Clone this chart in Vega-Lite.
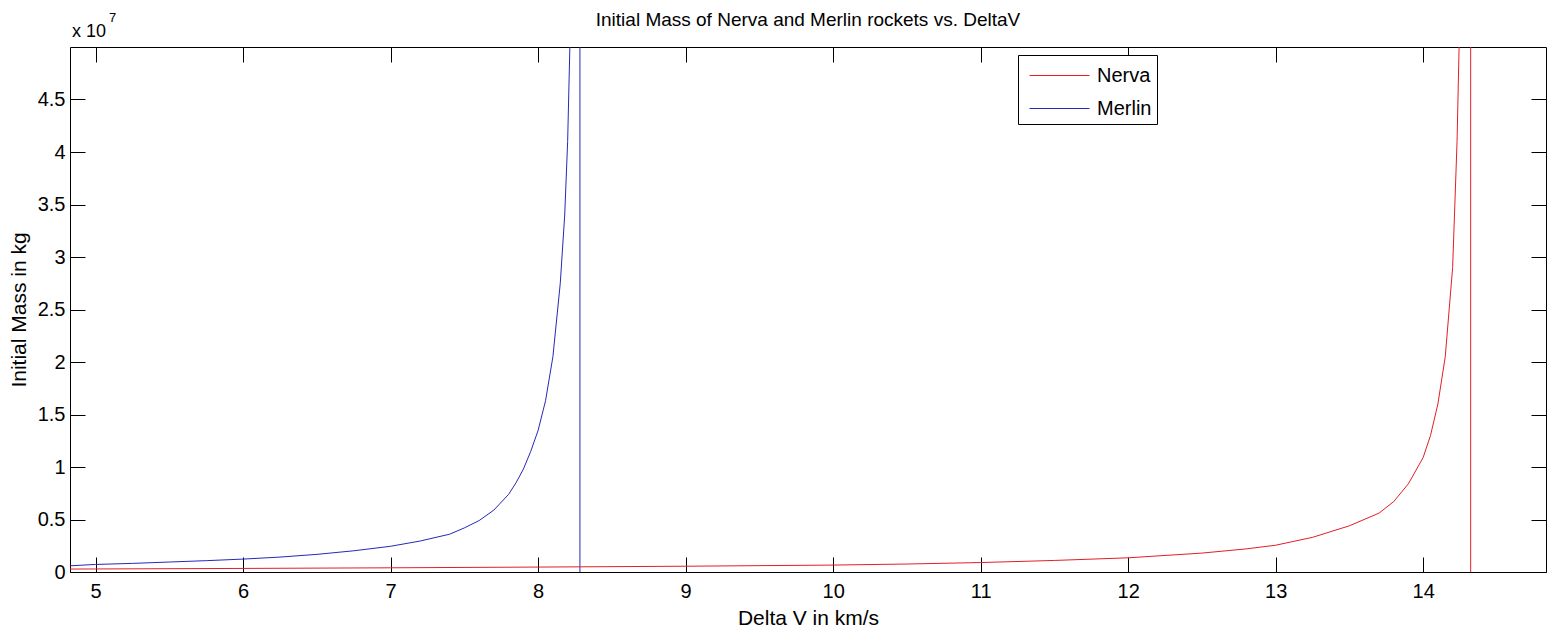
{
  "$schema": "https://vega.github.io/schema/vega-lite/v6.json",
  "width": 1476,
  "height": 525,
  "autosize": {"type": "none"},
  "padding": {"left": 70, "top": 47, "right": 1, "bottom": 61},
  "background": "white",
  "config": {
    "font": "Liberation Sans",
    "view": {"stroke": "black", "strokeWidth": 1},
    "axis": {
      "domain": false,
      "grid": false,
      "tickColor": "black",
      "tickWidth": 1,
      "labelColor": "black",
      "labelFont": "Liberation Sans",
      "labelFontSize": 20,
      "titleFont": "Liberation Sans",
      "titleFontSize": 21,
      "titleFontWeight": "normal",
      "titleColor": "black"
    }
  },
  "title": {
    "text": "Initial Mass of Nerva and Merlin rockets vs. DeltaV",
    "fontSize": 19,
    "fontWeight": "normal",
    "font": "Liberation Sans",
    "color": "black",
    "anchor": "middle",
    "frame": "group",
    "offset": -18
  },
  "data": {
    "values": [
      {"rocket": "Merlin", "dv": 4.826, "mass": 590000},
      {"rocket": "Merlin", "dv": 5.0, "mass": 720000},
      {"rocket": "Merlin", "dv": 5.25, "mass": 820000},
      {"rocket": "Merlin", "dv": 5.5, "mass": 950000},
      {"rocket": "Merlin", "dv": 5.75, "mass": 1080000},
      {"rocket": "Merlin", "dv": 6.0, "mass": 1230000},
      {"rocket": "Merlin", "dv": 6.25, "mass": 1420000},
      {"rocket": "Merlin", "dv": 6.5, "mass": 1680000},
      {"rocket": "Merlin", "dv": 6.75, "mass": 2020000},
      {"rocket": "Merlin", "dv": 7.0, "mass": 2450000},
      {"rocket": "Merlin", "dv": 7.2, "mass": 2950000},
      {"rocket": "Merlin", "dv": 7.4, "mass": 3600000},
      {"rocket": "Merlin", "dv": 7.5, "mass": 4200000},
      {"rocket": "Merlin", "dv": 7.6, "mass": 4900000},
      {"rocket": "Merlin", "dv": 7.7, "mass": 5900000},
      {"rocket": "Merlin", "dv": 7.8, "mass": 7400000},
      {"rocket": "Merlin", "dv": 7.85, "mass": 8500000},
      {"rocket": "Merlin", "dv": 7.9, "mass": 9800000},
      {"rocket": "Merlin", "dv": 7.95, "mass": 11500000},
      {"rocket": "Merlin", "dv": 8.0, "mass": 13500000},
      {"rocket": "Merlin", "dv": 8.05, "mass": 16300000},
      {"rocket": "Merlin", "dv": 8.1, "mass": 20500000},
      {"rocket": "Merlin", "dv": 8.15, "mass": 27500000},
      {"rocket": "Merlin", "dv": 8.18, "mass": 34000000},
      {"rocket": "Merlin", "dv": 8.2, "mass": 41000000},
      {"rocket": "Merlin", "dv": 8.22, "mass": 53000000},
      {"rocket": "Merlin", "dv": 8.25, "mass": 120000000},
      {"rocket": "Merlin", "dv": 8.27, "mass": 400000000},
      {"rocket": "Merlin", "dv": 8.283, "mass": 5000000000},
      {"rocket": "Merlin", "dv": 8.2835, "mass": -5000000000},
      {"rocket": "Merlin", "dv": 8.3, "mass": -300000000},
      {"rocket": "Merlin", "dv": 8.4, "mass": -33000000},
      {"rocket": "Merlin", "dv": 8.6, "mass": -13000000},
      {"rocket": "Merlin", "dv": 9.0, "mass": -6500000},
      {"rocket": "Merlin", "dv": 10.0, "mass": -3200000},
      {"rocket": "Merlin", "dv": 12.0, "mass": -2000000},
      {"rocket": "Merlin", "dv": 14.833, "mass": -1600000},
      {"rocket": "Nerva", "dv": 4.826, "mass": 280000},
      {"rocket": "Nerva", "dv": 5.0, "mass": 290000},
      {"rocket": "Nerva", "dv": 6.0, "mass": 340000},
      {"rocket": "Nerva", "dv": 7.0, "mass": 400000},
      {"rocket": "Nerva", "dv": 8.0, "mass": 470000},
      {"rocket": "Nerva", "dv": 9.0, "mass": 550000},
      {"rocket": "Nerva", "dv": 10.0, "mass": 660000},
      {"rocket": "Nerva", "dv": 10.5, "mass": 760000},
      {"rocket": "Nerva", "dv": 11.0, "mass": 900000},
      {"rocket": "Nerva", "dv": 11.5, "mass": 1100000},
      {"rocket": "Nerva", "dv": 12.0, "mass": 1350000},
      {"rocket": "Nerva", "dv": 12.5, "mass": 1800000},
      {"rocket": "Nerva", "dv": 12.8, "mass": 2200000},
      {"rocket": "Nerva", "dv": 13.0, "mass": 2550000},
      {"rocket": "Nerva", "dv": 13.25, "mass": 3300000},
      {"rocket": "Nerva", "dv": 13.5, "mass": 4400000},
      {"rocket": "Nerva", "dv": 13.7, "mass": 5600000},
      {"rocket": "Nerva", "dv": 13.8, "mass": 6700000},
      {"rocket": "Nerva", "dv": 13.9, "mass": 8400000},
      {"rocket": "Nerva", "dv": 14.0, "mass": 10900000},
      {"rocket": "Nerva", "dv": 14.05, "mass": 13000000},
      {"rocket": "Nerva", "dv": 14.1, "mass": 16000000},
      {"rocket": "Nerva", "dv": 14.15, "mass": 20500000},
      {"rocket": "Nerva", "dv": 14.2, "mass": 29000000},
      {"rocket": "Nerva", "dv": 14.23, "mass": 41000000},
      {"rocket": "Nerva", "dv": 14.25, "mass": 54000000},
      {"rocket": "Nerva", "dv": 14.28, "mass": 110000000},
      {"rocket": "Nerva", "dv": 14.31, "mass": 500000000},
      {"rocket": "Nerva", "dv": 14.322, "mass": 5000000000},
      {"rocket": "Nerva", "dv": 14.3225, "mass": -5000000000},
      {"rocket": "Nerva", "dv": 14.4, "mass": -40000000},
      {"rocket": "Nerva", "dv": 14.6, "mass": -12000000},
      {"rocket": "Nerva", "dv": 14.833, "mass": -7000000}
    ]
  },
  "resolve": {"scale": {"x": "shared", "y": "shared"}, "axis": {"x": "independent", "y": "independent"}},
  "layer": [
    {
      "mark": {"type": "line", "clip": true, "strokeWidth": 1, "interpolate": "linear"},
      "encoding": {
        "x": {
          "field": "dv", "type": "quantitative",
          "scale": {"domain": [4.826, 14.833], "nice": false, "zero": false},
          "axis": {
            "orient": "bottom",
            "values": [5, 6, 7, 8, 9, 10, 11, 12, 13, 14],
            "tickSize": -15,
            "labelPadding": 24,
            "title": "Delta V in km/s",
            "titlePadding": 6
          }
        },
        "y": {
          "field": "mass", "type": "quantitative",
          "scale": {"domain": [0, 50000000], "nice": false, "zero": false},
          "axis": {
            "orient": "left",
            "values": [0, 5000000, 10000000, 15000000, 20000000, 25000000, 30000000, 35000000, 40000000, 45000000],
            "labelExpr": "datum.value / 10000000 + ''",
            "tickSize": -15,
            "labelPadding": 20,
            "title": "Initial Mass in kg",
            "titlePadding": 8
          }
        },
        "color": {
          "field": "rocket", "type": "nominal",
          "scale": {"domain": ["Nerva", "Merlin"], "range": ["#e31e26", "#2828b8"]},
          "legend": {
            "title": null,
            "orient": "none",
            "legendX": 948,
            "legendY": 8,
            "direction": "vertical",
            "strokeColor": "black",
            "fillColor": "white",
            "padding": 5,
            "symbolType": "M-2,0H2",
            "symbolSize": 900,
            "symbolOffset": 21,
            "symbolStrokeWidth": 1,
            "labelFont": "Liberation Sans",
            "labelFontSize": 20,
            "labelColor": "black",
            "labelOffset": 22,
            "rowPadding": 7
          }
        }
      }
    },
    {
      "mark": {"type": "line", "clip": true, "strokeOpacity": 0},
      "encoding": {
        "x": {
          "field": "dv", "type": "quantitative",
          "axis": {"orient": "top", "values": [5, 6, 7, 8, 9, 10, 11, 12, 13, 14], "tickSize": -15, "labels": false, "title": null}
        },
        "y": {
          "field": "mass", "type": "quantitative",
          "axis": {"orient": "right", "values": [0, 5000000, 10000000, 15000000, 20000000, 25000000, 30000000, 35000000, 40000000, 45000000], "tickSize": -15, "labels": false, "title": null}
        },
        "detail": {"field": "rocket"}
      }
    },
    {
      "data": {"values": [{"label": "x 10"}]},
      "mark": {"type": "text", "align": "left", "baseline": "alphabetic", "fontSize": 18, "font": "Liberation Sans", "color": "black", "dx": 2, "dy": -10},
      "encoding": {
        "x": {"datum": 4.826, "type": "quantitative", "axis": null},
        "y": {"datum": 50000000, "type": "quantitative", "axis": null},
        "text": {"field": "label"}
      }
    },
    {
      "data": {"values": [{"label": "7"}]},
      "mark": {"type": "text", "align": "left", "baseline": "alphabetic", "fontSize": 13, "font": "Liberation Sans", "color": "black", "dx": 39, "dy": -25},
      "encoding": {
        "x": {"datum": 4.826, "type": "quantitative", "axis": null},
        "y": {"datum": 50000000, "type": "quantitative", "axis": null},
        "text": {"field": "label"}
      }
    }
  ]
}
